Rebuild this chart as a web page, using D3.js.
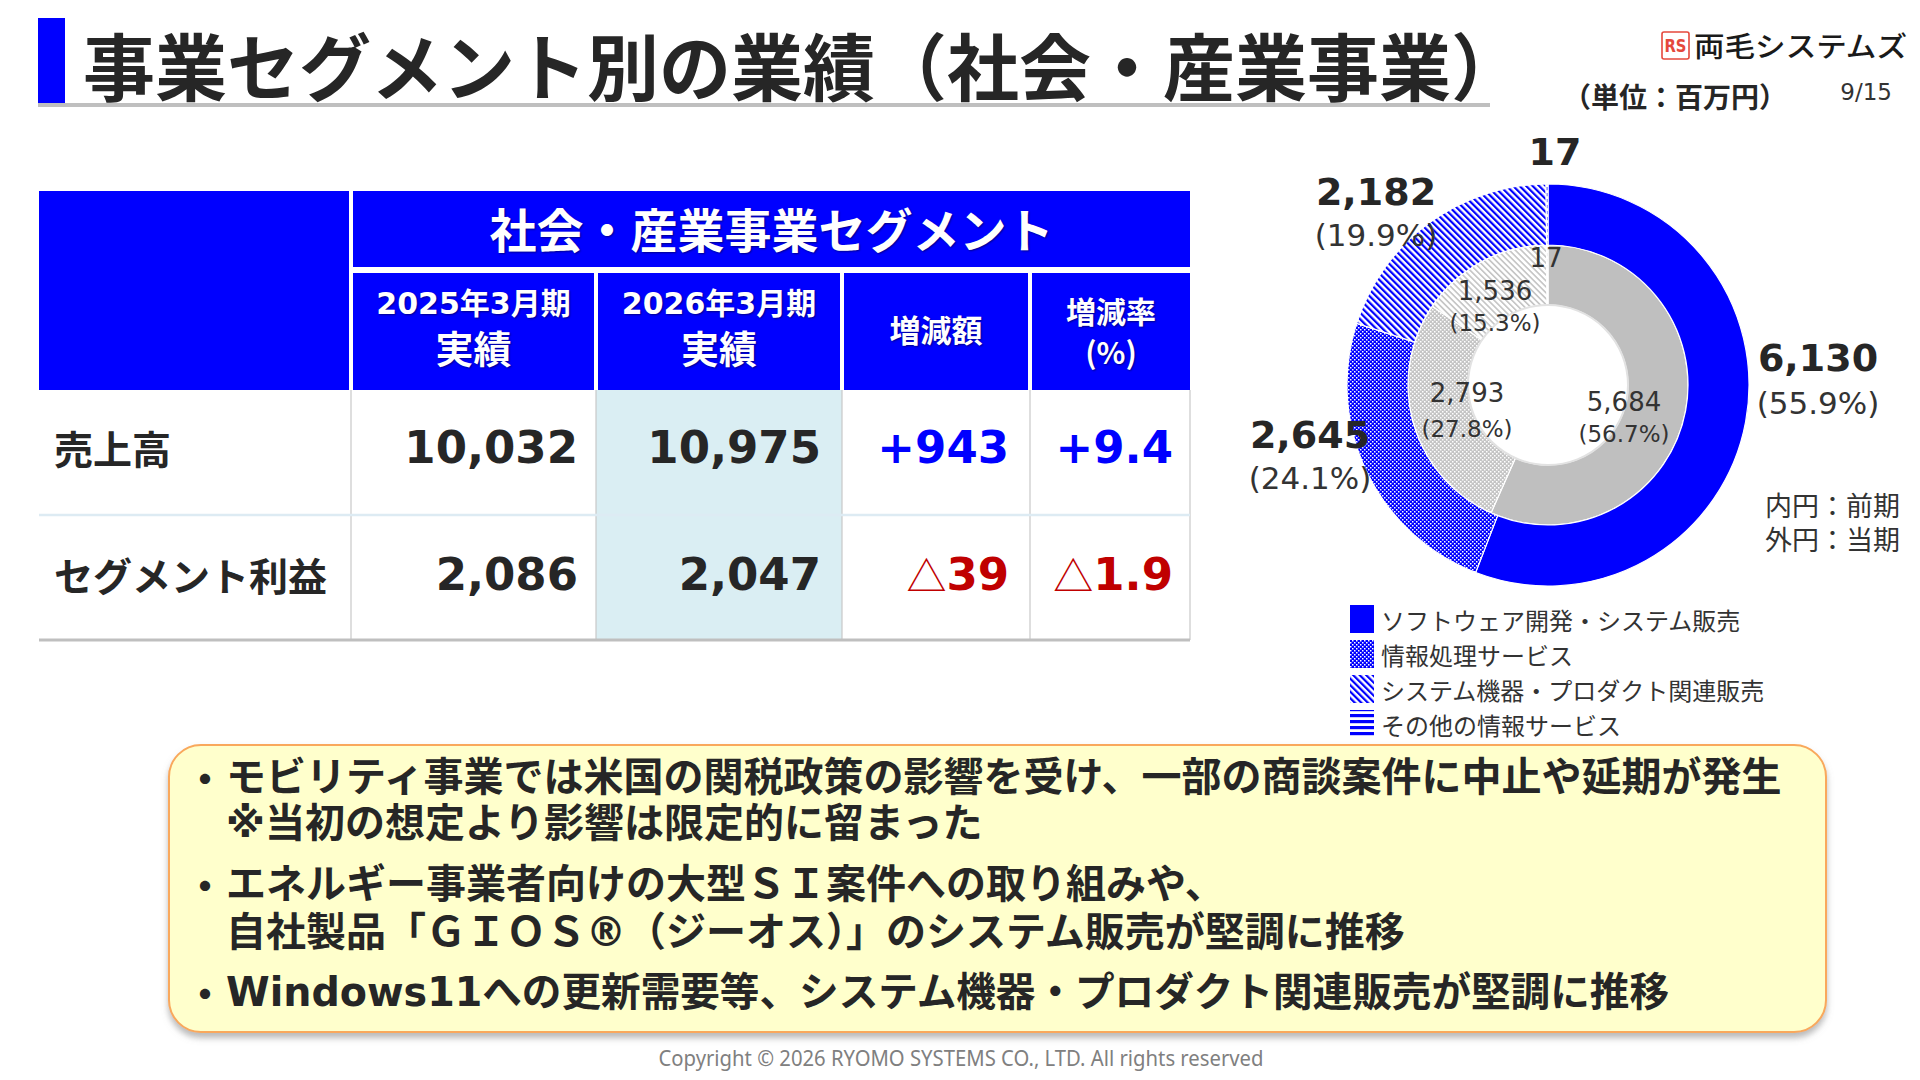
<!DOCTYPE html>
<html lang="ja">
<head>
<meta charset="utf-8">
<script src="https://cdn.jsdelivr.net/npm/d3@7"></script>
<style>
  html, body { margin: 0; padding: 0; background: #fff; }
  svg { display: block; }
  .hdr { text-shadow: 1px 1px 2px rgba(0,0,0,0.45); }
</style>
</head>
<body>
<svg id="chart" width="1920" height="1080"></svg>
<script>
// ---------------- data ----------------
const titleText = "事業セグメント別の業績（社会・産業事業）";
const unitText = "（単位：百万円）";
const pageText = "9/15";
const companyName = "両毛システムズ";

const segmentHeader = "社会・産業事業セグメント";
const columnHeaders = [["2025年3月期", "実績"], ["2026年3月期", "実績"], ["増減額"], ["増減率", "(%)"]];
const rowLabels = ["売上高", "セグメント利益"];
const fy2025 = [10032, 2086];
const fy2026 = [10975, 2047];
const diffAmount = [943, -39];
const diffRate = [9.4, -1.9];

const categories = ["ソフトウェア開発・システム販売", "情報処理サービス", "システム機器・プロダクト関連販売", "その他の情報サービス"];
const currentValues = [6130, 2645, 2182, 17];   // 外円：当期
const currentPct = [55.9, 24.1, 19.9, null];
const previousValues = [5684, 2793, 1536, 17];  // 内円：前期
const previousPct = [56.7, 27.8, 15.3, null];
const ringNotes = ["内円：前期", "外円：当期"];

const bulletLines = [
  {bullet: true,  text: "モビリティ事業では米国の関税政策の影響を受け、一部の商談案件に中止や延期が発生"},
  {bullet: false, text: "※当初の想定より影響は限定的に留まった"},
  {bullet: true,  text: "エネルギー事業者向けの大型ＳＩ案件への取り組みや、"},
  {bullet: false, text: "自社製品「ＧＩＯＳ®（ジーオス）」のシステム販売が堅調に推移"},
  {bullet: true,  text: "Windows11への更新需要等、システム機器・プロダクト関連販売が堅調に推移"}
];
const footerText = "Copyright © 2026 RYOMO  SYSTEMS CO., LTD. All rights reserved";

// ---------------- style ----------------
const BLUE = "#0000FF", DARK = "#262626", RED = "#C00000";
const JP = "'Noto Sans CJK JP', sans-serif";
const NUM = "'DejaVu Sans', 'Noto Sans CJK JP', sans-serif";

const svg = d3.select("#chart");
const defs = svg.append("defs");

// patterns
function dotPattern(id, fg, bg) {
  const p = defs.append("pattern").attr("id", id).attr("patternUnits", "userSpaceOnUse")
    .attr("width", 4).attr("height", 4);
  p.append("rect").attr("width", 4).attr("height", 4).attr("fill", fg);
  p.append("rect").attr("x", 0).attr("y", 0).attr("width", 1.5).attr("height", 1.5).attr("fill", bg);
  p.append("rect").attr("x", 2).attr("y", 2).attr("width", 1.5).attr("height", 1.5).attr("fill", bg);
}
function diagPattern(id, fg, w, gap) {
  const p = defs.append("pattern").attr("id", id).attr("patternUnits", "userSpaceOnUse")
    .attr("width", gap).attr("height", gap).attr("patternTransform", "rotate(-45)");
  p.append("rect").attr("width", gap).attr("height", gap).attr("fill", "#fff");
  p.append("rect").attr("width", w).attr("height", gap).attr("fill", fg);
}
function hPattern(id, fg) {
  const p = defs.append("pattern").attr("id", id).attr("patternUnits", "userSpaceOnUse")
    .attr("width", 6).attr("height", 6);
  p.append("rect").attr("width", 6).attr("height", 6).attr("fill", "#fff");
  p.append("rect").attr("y", 0).attr("width", 6).attr("height", 3.2).attr("fill", fg);
}
dotPattern("pDotBlue", BLUE, "#fff");
diagPattern("pDiagBlue", BLUE, 2.2, 4.6);
hPattern("pHBlue", BLUE);
dotPattern("pDotGray", "#C4C4C4", "#fff");
diagPattern("pDiagGray", "#C4C4C4", 1.6, 4.2);
hPattern("pHGray", "#C4C4C4");

const outerFills = [BLUE, "url(#pDotBlue)", "url(#pDiagBlue)", "url(#pHBlue)"];
const innerFills = ["#BFBFBF", "url(#pDotGray)", "url(#pDiagGray)", "url(#pHGray)"];

const shadow = defs.append("filter").attr("id", "boxShadow").attr("x", "-5%").attr("y", "-10%").attr("width", "110%").attr("height", "130%");
shadow.append("feDropShadow").attr("dx", 0).attr("dy", 5).attr("stdDeviation", 3).attr("flood-color", "#7f7f7f").attr("flood-opacity", 0.55);

// ---------------- title ----------------
svg.append("rect").attr("x", 38).attr("y", 18).attr("width", 27).attr("height", 85).attr("fill", BLUE);
svg.append("rect").attr("x", 38).attr("y", 103).attr("width", 1452).attr("height", 4).attr("fill", "#BFBFBF");
svg.append("text").attr("x", 83).attr("y", 63).attr("dominant-baseline", "central")
  .attr("font-family", JP).attr("font-weight", 700).attr("font-size", 73).attr("fill", DARK)
  .attr("textLength", 1440).attr("lengthAdjust", "spacingAndGlyphs")
  .text(titleText);

// logo
svg.append("rect").attr("x", 1662).attr("y", 32).attr("width", 27).attr("height", 27).attr("rx", 2)
  .attr("fill", "#fff").attr("stroke", "#E5483C").attr("stroke-width", 1.6);
svg.append("text").attr("x", 1675.5).attr("y", 46).attr("text-anchor", "middle").attr("dominant-baseline", "central")
  .attr("font-family", NUM).attr("font-weight", 700).attr("font-size", 17).attr("fill", "#E5483C")
  .attr("textLength", 22).attr("lengthAdjust", "spacingAndGlyphs").text("RS");
svg.append("text").attr("x", 1694).attr("y", 45).attr("dominant-baseline", "central")
  .attr("font-family", JP).attr("font-weight", 500).attr("font-size", 28).attr("fill", "#1a1a1a")
  .attr("textLength", 213).attr("lengthAdjust", "spacingAndGlyphs").text(companyName);

svg.append("text").attr("x", 1563).attr("y", 96).attr("dominant-baseline", "central")
  .attr("font-family", JP).attr("font-weight", 700).attr("font-size", 28).attr("fill", DARK)
  .attr("textLength", 224).attr("lengthAdjust", "spacingAndGlyphs").text(unitText);
svg.append("text").attr("x", 1892).attr("y", 92).attr("text-anchor", "end").attr("dominant-baseline", "central")
  .attr("font-family", NUM).attr("font-size", 23).attr("fill", "#333").text(pageText);

// ---------------- table ----------------
const colEdges = [39, 351, 596, 842, 1030, 1190];
const rowTop = 191, h1Bottom = 269, h2Top = 273, headBottom = 390;
const rowBottoms = [515, 640];
const G = 2; // half gap

const t = svg.append("g");
t.append("rect").attr("x", colEdges[0]).attr("y", rowTop).attr("width", colEdges[1] - colEdges[0] - G).attr("height", headBottom - rowTop).attr("fill", BLUE);
t.append("rect").attr("x", colEdges[1] + G).attr("y", rowTop).attr("width", colEdges[5] - colEdges[1] - G).attr("height", h1Bottom - rowTop - G).attr("fill", BLUE);
t.append("text").attr("class", "hdr").attr("x", (colEdges[1] + colEdges[5]) / 2 + 1).attr("y", 227)
  .attr("text-anchor", "middle").attr("dominant-baseline", "central")
  .attr("font-family", JP).attr("font-weight", 700).attr("font-size", 47).attr("fill", "#fff").text(segmentHeader);
columnHeaders.forEach((lines, i) => {
  const x0 = colEdges[i + 1] + G, x1 = colEdges[i + 2] - (i === 3 ? 0 : G);
  t.append("rect").attr("x", x0).attr("y", h2Top).attr("width", x1 - x0).attr("height", headBottom - h2Top).attr("fill", BLUE);
  const cx = (x0 + x1) / 2;
  if (lines.length === 2 && i < 2) {
    t.append("text").attr("class", "hdr").attr("x", cx).attr("y", 303).attr("text-anchor", "middle").attr("dominant-baseline", "central")
      .attr("font-family", NUM).attr("font-weight", 700).attr("font-size", 30).attr("fill", "#fff").text(lines[0]);
    t.append("text").attr("class", "hdr").attr("x", cx).attr("y", 346).attr("text-anchor", "middle").attr("dominant-baseline", "central")
      .attr("font-family", JP).attr("font-weight", 700).attr("font-size", 38).attr("fill", "#fff").text(lines[1]);
  } else if (lines.length === 2) {
    t.append("text").attr("class", "hdr").attr("x", cx).attr("y", 310).attr("text-anchor", "middle").attr("dominant-baseline", "central")
      .attr("font-family", JP).attr("font-weight", 700).attr("font-size", 30).attr("fill", "#fff").text(lines[0]);
    t.append("text").attr("class", "hdr").attr("x", cx).attr("y", 351).attr("text-anchor", "middle").attr("dominant-baseline", "central")
      .attr("font-family", JP).attr("font-weight", 700).attr("font-size", 30).attr("fill", "#fff").text(lines[1]);
  } else {
    t.append("text").attr("class", "hdr").attr("x", cx).attr("y", 328).attr("text-anchor", "middle").attr("dominant-baseline", "central")
      .attr("font-family", JP).attr("font-weight", 700).attr("font-size", 31).attr("fill", "#fff").text(lines[0]);
  }
});
t.append("rect").attr("x", colEdges[2]).attr("y", headBottom).attr("width", colEdges[3] - colEdges[2]).attr("height", rowBottoms[1] - headBottom).attr("fill", "#DAEEF3");
colEdges.slice(1).forEach(x => {
  t.append("line").attr("x1", x).attr("x2", x).attr("y1", headBottom).attr("y2", rowBottoms[1]).attr("stroke", "#C8C8C8").attr("stroke-width", 1.2);
});
t.append("line").attr("x1", colEdges[0]).attr("x2", colEdges[5]).attr("y1", rowBottoms[0]).attr("y2", rowBottoms[0]).attr("stroke", "#DDEBF3").attr("stroke-width", 2.5);
t.append("line").attr("x1", colEdges[0]).attr("x2", colEdges[5]).attr("y1", rowBottoms[1]).attr("y2", rowBottoms[1]).attr("stroke", "#BFBFBF").attr("stroke-width", 3);

const fmt = d3.format(",");
const fmtSigned = v => v >= 0 ? "+" + fmt(v) : "△" + fmt(-v);
const rowCenters = [447, 574];
rowLabels.forEach((lab, r) => {
  const y = rowCenters[r];
  t.append("text").attr("x", 54).attr("y", y).attr("dominant-baseline", "central")
    .attr("font-family", JP).attr("font-weight", 700).attr("font-size", 39).attr("fill", DARK).text(lab);
  const cells = [fmt(fy2025[r]), fmt(fy2026[r]), fmtSigned(diffAmount[r]), fmtSigned(diffRate[r])];
  const colors = [DARK, DARK, diffAmount[r] >= 0 ? BLUE : RED, diffRate[r] >= 0 ? BLUE : RED];
  const pads = [18, 21, 21, 17];
  cells.forEach((s, c) => {
    const txt = t.append("text").attr("x", colEdges[c + 2] - pads[c]).attr("y", y)
      .attr("text-anchor", "end").attr("dominant-baseline", "central")
      .attr("font-family", NUM).attr("font-weight", 700).attr("font-size", 45).attr("fill", colors[c]);
    if (s.startsWith("△")) {
      txt.append("tspan").attr("font-weight", 400).attr("font-family", JP).attr("font-size", 40).text("△");
      txt.append("tspan").text(s.slice(1));
    } else {
      txt.text(s);
    }
  });
});

// ---------------- donut ----------------
const cx = 1548, cy = 385;
const rHole = 80, rMid = 140, rOuter = 201;
const pie = d3.pie().sort(null).value(d => d);
const outerArcs = pie(currentValues);
const innerArcs = pie(previousValues);
const outerArc = d3.arc().innerRadius(rMid).outerRadius(rOuter);
const innerArc = d3.arc().innerRadius(rHole).outerRadius(rMid);

const dg = svg.append("g").attr("transform", `translate(${cx},${cy})`);
dg.selectAll("path.inner").data(innerArcs).join("path").attr("class", "inner")
  .attr("d", innerArc).attr("fill", (d, i) => innerFills[i]).attr("stroke", "#fff").attr("stroke-width", 1.2);
dg.selectAll("path.outer").data(outerArcs).join("path").attr("class", "outer")
  .attr("d", outerArc).attr("fill", (d, i) => outerFills[i]).attr("stroke", "#fff").attr("stroke-width", 1.2);
dg.append("circle").attr("r", rHole).attr("fill", "none").attr("stroke", "#e2e2e2").attr("stroke-width", 2);

// label layout (offsets from donut centre)
const outerLabelPos = [[270, -27, 18], [-238, 50, 93], [-172, -193, -150], [7, -233, null]];
const innerLabelPos = [[76, 17, 49], [-81, 8, 44], [-53, -94, -62], [-2, -127, null]];

currentValues.forEach((v, i) => {
  const [dx, dy, dyp] = outerLabelPos[i];
  dg.append("text").attr("x", dx).attr("y", dy).attr("text-anchor", "middle").attr("dominant-baseline", "central")
    .attr("font-family", NUM).attr("font-weight", 700).attr("font-size", 38).attr("fill", DARK).text(fmt(v));
  if (currentPct[i] != null) {
    dg.append("text").attr("x", dx).attr("y", dyp).attr("text-anchor", "middle").attr("dominant-baseline", "central")
      .attr("font-family", NUM).attr("font-size", 31).attr("fill", "#333").text(`(${currentPct[i].toFixed(1)}%)`);
  }
});
previousValues.forEach((v, i) => {
  const [dx, dy, dyp] = innerLabelPos[i];
  dg.append("text").attr("x", dx).attr("y", dy).attr("text-anchor", "middle").attr("dominant-baseline", "central")
    .attr("font-family", NUM).attr("font-size", 26).attr("fill", "#333").text(fmt(v));
  if (previousPct[i] != null) {
    dg.append("text").attr("x", dx).attr("y", dyp).attr("text-anchor", "middle").attr("dominant-baseline", "central")
      .attr("font-family", NUM).attr("font-size", 23).attr("fill", "#333").text(`(${previousPct[i].toFixed(1)}%)`);
  }
});

ringNotes.forEach((s, i) => {
  svg.append("text").attr("x", 1765).attr("y", 504 + i * 34).attr("dominant-baseline", "central")
    .attr("font-family", JP).attr("font-size", 27).attr("fill", "#333").text(s);
});

// legend
const lg = svg.append("g");
categories.forEach((c, i) => {
  const y0 = 605 + i * 35;
  lg.append("rect").attr("x", 1350).attr("y", y0).attr("width", 24).attr("height", 28).attr("fill", outerFills[i]);
  lg.append("text").attr("x", 1381).attr("y", y0 + 14).attr("dominant-baseline", "central")
    .attr("font-family", JP).attr("font-size", 24).attr("fill", "#333").text(c);
});

// ---------------- comment box ----------------
svg.append("rect").attr("x", 169).attr("y", 745).attr("width", 1657).attr("height", 287).attr("rx", 32)
  .attr("fill", "#FFFFCC").attr("stroke", "#F9A85B").attr("stroke-width", 2).attr("filter", "url(#boxShadow)");
const lineYs = [777, 823, 884, 932, 992];
bulletLines.forEach((l, i) => {
  if (l.bullet) {
    svg.append("text").attr("x", 185).attr("y", lineYs[i]).attr("dominant-baseline", "central")
      .attr("font-family", JP).attr("font-weight", 700).attr("font-size", 40).attr("fill", DARK).text("・");
  }
  const tx = svg.append("text").attr("x", 226).attr("y", lineYs[i]).attr("dominant-baseline", "central")
    .attr("font-family", NUM).attr("font-weight", 700).attr("font-size", 40).attr("fill", DARK).text(l.text);
  if (/[A-Za-z]/.test(l.text)) tx.attr("textLength", 1443).attr("lengthAdjust", "spacingAndGlyphs");
});

// footer
svg.append("text").attr("x", 961).attr("y", 1058).attr("text-anchor", "middle").attr("dominant-baseline", "central")
  .attr("font-family", "'Noto Sans', sans-serif").attr("font-size", 21).attr("fill", "#808080")
  .attr("textLength", 605).attr("lengthAdjust", "spacingAndGlyphs").text(footerText);
</script>
</body>
</html>
